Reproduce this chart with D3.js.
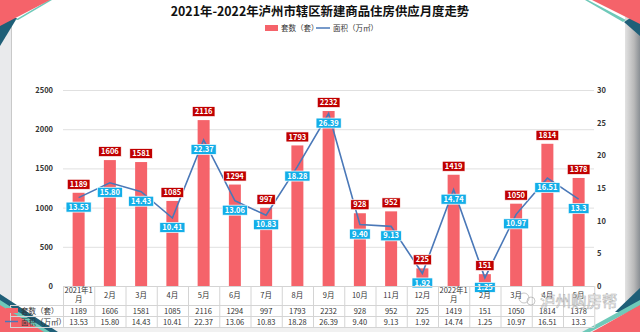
<!DOCTYPE html>
<html><head><meta charset="utf-8">
<script src="https://cdn.jsdelivr.net/npm/d3@7"></script>
<style>
body{margin:0;background:#fff;overflow:hidden}
svg{display:block}
text{font-family:"Noto Sans CJK SC","Noto Sans",sans-serif}
</style></head>
<body><svg id="c" width="640" height="332"></svg>
<script>
const months = ["2021年1月","2月","3月","4月","5月","6月","7月","8月","9月","10月","11月","12月","2022年1月","2月","3月","4月","5月"];
const units  = [1189,1606,1581,1085,2116,1294,997,1793,2232,928,952,225,1419,151,1050,1814,1378];
const areaText = ["13.53","15.80","14.43","10.41","22.37","13.06","10.83","18.28","26.39","9.40","9.13","1.92","14.74","1.25","10.97","16.51","13.3"];
const unitTicks = [0,500,1000,1500,2000,2500];
const areaTicks = [0,5,10,15,20,25,30];
const seriesNames = ["套数（套）","面积（万㎡）"];
const titleText = "2021年-2022年泸州市辖区新建商品住房供应月度走势";
const watermark = "泸州购房帮";

const areas = areaText.map(Number);
const svg = d3.select("#c");
const W = 640, H = 332;
const barColor = "#f5636a", lineColor = "#4a78b8", darkRed = "#c00000", cyan = "#13aee8";

// card background / frame
svg.append("rect").attr("width",W).attr("height",H).attr("fill","#fff");
svg.append("rect").attr("x",0).attr("y",0).attr("width",11).attr("height",H).attr("fill","#e9eaec");
svg.append("line").attr("x1",11.5).attr("x2",11.5).attr("y1",0).attr("y2",H).attr("stroke","#c9c9c9");
const rg = svg.append("defs").append("linearGradient").attr("id","rg");
rg.append("stop").attr("offset","0").attr("stop-color","#e2e2e2");
rg.append("stop").attr("offset","0.6").attr("stop-color","#b9b9b9");
rg.append("stop").attr("offset","1").attr("stop-color","#8a8f94");
svg.append("rect").attr("x",625).attr("y",0).attr("width",15).attr("height",H).attr("fill","url(#rg)");
svg.append("rect").attr("x",0).attr("y",327).attr("width",W).attr("height",5).attr("fill","#f1f1f1");

// decorations
const deco = [
  {p:[[0,18],[0,46],[17,18]], f:"#1f5f78"},
  {p:[[15,20],[49,0],[52,0],[18,20]], f:"#6fc9b9"},
  {p:[[0,0],[50,0],[0,26]], f:"#f5636a"},
  {p:[[640,12],[640,36],[624,22]], f:"#1f5f78"},
  {p:[[588,0],[626,20],[623,22],[585,0]], f:"#6fc9b9"},
  {p:[[592,0],[640,0],[640,24]], f:"#f5636a"},
  {p:[[0,294],[58,332],[0,332]], f:"#1f5f78"},
  {p:[[0,300],[50,332],[0,332]], f:"#6fc9b9"},
  {p:[[0,305],[44,332],[0,332]], f:"#f5636a"},
  {p:[[640,288],[640,312],[615,312]], f:"#1f5f78"},
  {p:[[640,300],[640,306],[590,332],[582,332]], f:"#6fc9b9"},
  {p:[[640,305],[640,332],[592,332]], f:"#f5636a"}
];
svg.append("g").selectAll("path").data(deco).join("path")
  .attr("d", d => "M" + d.p.map(q => q.join(",")).join("L") + "Z")
  .attr("fill", d => d.f);

// scales
const x = d3.scaleBand().domain(d3.range(months.length)).range([63, 594.25]).padding(0);
const yL = d3.scaleLinear().domain([0,2500]).range([286, 90]);
const yR = d3.scaleLinear().domain([0,30]).range([286, 90]);
const bw = 12;
const cx = i => x(i) + x.bandwidth()/2;

// title + legend
svg.append("text").attr("x",320).attr("y",16).attr("text-anchor","middle")
  .attr("font-size",12.4).attr("font-weight","bold").attr("fill","#111").text(titleText);
const lg = svg.append("g").attr("font-size",7.5).attr("fill","#333");
lg.append("rect").attr("x",265).attr("y",25).attr("width",13).attr("height",6).attr("fill",barColor);
lg.append("text").attr("x",281).attr("y",31).text(seriesNames[0]);
lg.append("line").attr("x1",316).attr("x2",330).attr("y1",28).attr("y2",28).attr("stroke",lineColor).attr("stroke-width",1.5);
lg.append("text").attr("x",333).attr("y",31).text(seriesNames[1]);

// grid
svg.append("g").selectAll("line").data(unitTicks.slice(1)).join("line")
  .attr("x1",63).attr("x2",594).attr("y1",d=>yL(d)+0.5).attr("y2",d=>yL(d)+0.5)
  .attr("stroke","#e0e0e0").attr("stroke-width",1);

// axes
const axL = svg.append("g").attr("transform","translate(53,0)")
  .call(d3.axisLeft(yL).tickValues(unitTicks).tickFormat(d3.format("d")).tickSize(0).tickPadding(0));
const axR = svg.append("g").attr("transform","translate(597,0)")
  .call(d3.axisRight(yR).tickValues(areaTicks).tickFormat(d3.format("d")).tickSize(0).tickPadding(0));
[axL, axR].forEach(a => {
  a.select(".domain").remove();
  a.selectAll("text").attr("font-size",7.5).attr("font-weight","bold").attr("fill","#333")
    .style("font-family","'Noto Sans CJK SC','Noto Sans',sans-serif");
});

// bars
svg.append("g").selectAll("rect").data(units).join("rect")
  .attr("x",(d,i)=>cx(i)-bw/2).attr("width",bw)
  .attr("y",d=>yL(d)).attr("height",d=>yL(0)-yL(d)).attr("fill",barColor);

// line
svg.append("path").datum(areas)
  .attr("d", d3.line().x((d,i)=>cx(i)).y(d=>yR(d)))
  .attr("fill","none").attr("stroke",lineColor).attr("stroke-width",1.6);

// labels helper
function labels(data, texts, yfn, dy, bg){
  const g = svg.append("g").selectAll("g").data(data).join("g")
    .attr("transform",(d,i)=>`translate(${cx(i)},${yfn(d)+dy})`);
  g.append("text").attr("text-anchor","middle").attr("dy","0.35em")
    .attr("font-size",7.5).attr("font-weight","bold").attr("fill","#fff")
    .text((d,i)=>texts[i]);
  g.each(function(){
    const tt = d3.select(this).select("text");
    const w = tt.node().getComputedTextLength() + 5;
    d3.select(this).insert("rect","text").attr("x",-w/2).attr("y",-5).attr("width",w).attr("height",10)
      .attr("fill",bg).attr("stroke","#fff").attr("stroke-width",0.7);
  });
}
labels(units, units.map(String), yL, -8.5, darkRed);
labels(areas, areaText, yR, 9.5, cyan);

// table
const tb = svg.append("g");
const rowY = [286, 305, 316, 327];
const tx0 = 63, tx1 = 594.25;
tb.selectAll("line.h").data(rowY).join("line").attr("class","h")
  .attr("x1",(d,i)=> i===0 ? tx0 : 10).attr("x2",tx1).attr("y1",d=>d+0.5).attr("y2",d=>d+0.5)
  .attr("stroke","#d4d4d4");
const vx = d3.range(months.length+1).map(i => i<months.length ? x(i) : tx1);
tb.selectAll("line.v").data(vx).join("line").attr("class","v")
  .attr("x1",d=>d+0.5).attr("x2",d=>d+0.5).attr("y1",286).attr("y2",327).attr("stroke","#d4d4d4");
tb.append("line").attr("x1",10.5).attr("x2",10.5).attr("y1",305).attr("y2",327).attr("stroke","#d4d4d4");

const hdr = tb.selectAll("text.m").data(months).join("text").attr("class","m")
  .attr("text-anchor","middle").attr("font-size",7.5).attr("fill","#333");
hdr.each(function(d,i){
  const t = d3.select(this);
  if (d.length > 4) {
    t.append("tspan").attr("x",cx(i)).attr("y",292.5).text(d.slice(0,-1));
    t.append("tspan").attr("x",cx(i)).attr("y",301.5).text(d.slice(-1));
  } else {
    t.attr("x",cx(i)).attr("y",298).text(d);
  }
});
tb.selectAll("text.u").data(units).join("text").attr("class","u")
  .attr("x",(d,i)=>cx(i)).attr("y",313.5).attr("text-anchor","middle").attr("font-size",7.5).attr("fill","#333").text(d=>d);
tb.selectAll("text.a").data(areaText).join("text").attr("class","a")
  .attr("x",(d,i)=>cx(i)).attr("y",324.5).attr("text-anchor","middle").attr("font-size",7.5).attr("fill","#333").text(d=>d);

// table legend keys
tb.append("rect").attr("x",6).attr("y",308).attr("width",12).attr("height",5).attr("fill",barColor);
tb.append("text").attr("x",21).attr("y",313.5).attr("font-size",7.5).attr("fill","#333").text(seriesNames[0]);
tb.append("line").attr("x1",5).attr("x2",18).attr("y1",321.5).attr("y2",321.5).attr("stroke",lineColor).attr("stroke-width",1.5);
tb.append("text").attr("x",21).attr("y",324.5).attr("font-size",7.5).attr("fill","#333").text(seriesNames[1]);

// watermark
const wm = svg.append("g").attr("opacity",0.7);
wm.append("text").attr("x",540).attr("y",307).attr("font-size",15.5).attr("fill","#fff")
  .attr("stroke","#9a9a9a").attr("stroke-width",0.6).text(watermark);
wm.append("circle").attr("cx",524).attr("cy",298).attr("r",5).attr("fill","none").attr("stroke","#9a9a9a").attr("stroke-width",0.8);
wm.append("circle").attr("cx",531).attr("cy",301).attr("r",4).attr("fill","none").attr("stroke","#9a9a9a").attr("stroke-width",0.8);
</script>
</body></html>
